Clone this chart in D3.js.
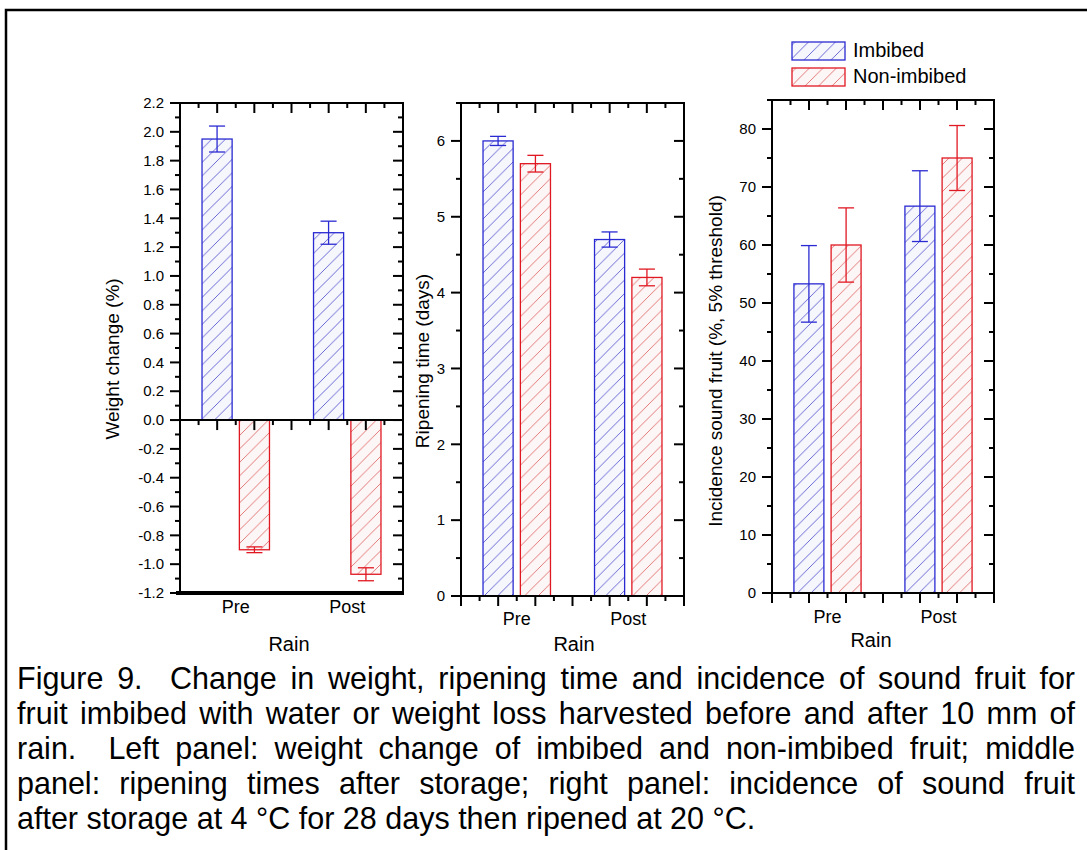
<!DOCTYPE html>
<html>
<head>
<meta charset="utf-8">
<script src="https://cdn.jsdelivr.net/npm/d3@7"></script>
<style>
  html, body { margin: 0; padding: 0; background: #fff; }
  svg { display: block; }
  text { font-family: "Liberation Sans", Arial, Helvetica, sans-serif; fill: #000; }
</style>
</head>
<body>
<svg id="fig" width="1087" height="850"></svg>
<script>
// ---- data ---------------------------------------------------------------
const rainGroups = ["Pre", "Post"];
const seriesNames = ["Imbibed", "Non-imbibed"];

// Weight change (%)
const weightImbibed = [1.95, 1.30];
const weightImbibedErr = [0.09, 0.08];
const weightNonImbibed = [-0.90, -1.07];
const weightNonImbibedErr = [0.02, 0.045];

// Ripening time (days)
const ripenImbibed = [6.0, 4.7];
const ripenImbibedErr = [0.06, 0.10];
const ripenNonImbibed = [5.7, 4.2];
const ripenNonImbibedErr = [0.11, 0.11];

// Incidence of sound fruit (%, 5% threshold)
const soundImbibed = [53.3, 66.7];
const soundImbibedErr = [6.6, 6.1];
const soundNonImbibed = [60.0, 75.0];
const soundNonImbibedErr = [6.4, 5.6];

// axis ticks
const weightTicks = [-1.2, -1.0, -0.8, -0.6, -0.4, -0.2, 0.0, 0.2, 0.4, 0.6, 0.8, 1.0, 1.2, 1.4, 1.6, 1.8, 2.0, 2.2];
const weightTickLabels = ["-1.2", "-1.0", "-0.8", "-0.6", "-0.4", "-0.2", "0.0", "0.2", "0.4", "0.6", "0.8", "1.0", "1.2", "1.4", "1.6", "1.8", "2.0", "2.2"];
const ripenTicks = [0, 1, 2, 3, 4, 5, 6];
const ripenTickLabels = ["0", "1", "2", "3", "4", "5", "6"];
const soundTicks = [0, 10, 20, 30, 40, 50, 60, 70, 80];
const soundTickLabels = ["0", "10", "20", "30", "40", "50", "60", "70", "80"];

const captionLines = [
  "Figure 9.  Change in weight, ripening time and incidence of sound fruit for",
  "fruit imbibed with water or weight loss harvested before and after 10 mm of",
  "rain.  Left panel: weight change of imbibed and non-imbibed fruit; middle",
  "panel: ripening times after storage; right panel: incidence of sound fruit",
  "after storage at 4 °C for 28 days then ripened at 20 °C."
];

// ---- styling ------------------------------------------------------------
const seriesStroke = ["#2a2ad2", "#e01822"];
const seriesHatch = ["#5a5ad0", "#e06a6a"];
const seriesBg = ["#f6f6fd", "#fdf6f6"];

const svg = d3.select("#fig");

// outer figure border (runs past the right and bottom edges)
svg.append("rect")
  .attr("x", 6).attr("y", 10).attr("width", 1200).attr("height", 1000)
  .attr("fill", "none").attr("stroke", "#000").attr("stroke-width", 2.5);

// diagonal hatch patterns
const defs = svg.append("defs");
const hatchStep = 13.5;
seriesNames.forEach((name, i) => {
  const p = defs.append("pattern")
    .attr("id", "hatch" + i)
    .attr("patternUnits", "userSpaceOnUse")
    .attr("width", hatchStep).attr("height", hatchStep);
  p.append("rect").attr("width", hatchStep).attr("height", hatchStep).attr("fill", seriesBg[i]);
  p.append("path")
    .attr("d", `M0,${hatchStep} L${hatchStep},0 M${-hatchStep / 2},${hatchStep / 2} L${hatchStep / 2},${-hatchStep / 2} M${hatchStep / 2},${hatchStep * 1.5} L${hatchStep * 1.5},${hatchStep / 2}`)
    .attr("stroke", seriesHatch[i]).attr("stroke-width", 0.9).attr("fill", "none");
});

// ---- panels -------------------------------------------------------------
const panels = [
  {
    box: [180, 403, 103, 593], domain: [-1.2, 2.2], minorStep: 0.1,
    ticks: weightTicks, labels: weightTickLabels,
    series: [[weightImbibed, weightImbibedErr], [weightNonImbibed, weightNonImbibedErr]],
    title: "Weight change (%)", titlePos: [119, 359],
    catBaseline: 613, rainPos: [289, 651], zeroAxis: true, tickFont: 15
  },
  {
    box: [461, 684, 103, 596], domain: [0, 6.5], minorStep: 0.5,
    ticks: ripenTicks, labels: ripenTickLabels,
    series: [[ripenImbibed, ripenImbibedErr], [ripenNonImbibed, ripenNonImbibedErr]],
    title: "Ripening time (days)", titlePos: [429, 361],
    catBaseline: 625, rainPos: [574, 651], zeroAxis: false, tickFont: 15
  },
  {
    box: [772, 994, 100, 593], domain: [0, 85], minorStep: 5,
    ticks: soundTicks, labels: soundTickLabels,
    series: [[soundImbibed, soundImbibedErr], [soundNonImbibed, soundNonImbibedErr]],
    title: "Incidence sound fruit (%, 5% threshold)", titlePos: [722, 361],
    catBaseline: 623, rainPos: [871, 647], zeroAxis: false, tickFont: 15
  }
];

const barWidth = 0.27;      // in category units
const barOffset = 0.1675;   // half distance between paired bar centres
const capHalf = 0.072;      // error-bar cap half width
const majorLen = 10, minorLen = 5;

panels.forEach(pn => {
  const [x0, x1, y0, y1] = pn.box;
  const x = d3.scaleLinear().domain([0.5, 2.5]).range([x0, x1]);
  const y = d3.scaleLinear().domain(pn.domain).range([y1, y0]);
  const g = svg.append("g");

  // bars with error bars
  pn.series.forEach(([vals, errs], si) => {
    const off = si === 0 ? -barOffset : barOffset;
    vals.forEach((v, ci) => {
      const cx = ci + 1 + off;
      g.append("rect")
        .attr("x", x(cx - barWidth / 2))
        .attr("y", Math.min(y(v), y(0)))
        .attr("width", x(cx + barWidth / 2) - x(cx - barWidth / 2))
        .attr("height", Math.abs(y(v) - y(0)))
        .attr("fill", `url(#hatch${si})`)
        .attr("stroke", seriesStroke[si]).attr("stroke-width", 1.3);
      const e = errs[ci];
      const eg = g.append("g").attr("stroke", seriesStroke[si]).attr("stroke-width", 1.3).attr("fill", "none");
      eg.append("line").attr("x1", x(cx)).attr("x2", x(cx)).attr("y1", y(v - e)).attr("y2", y(v + e));
      [v - e, v + e].forEach(ev => {
        eg.append("line").attr("x1", x(cx - capHalf)).attr("x2", x(cx + capHalf)).attr("y1", y(ev)).attr("y2", y(ev));
      });
    });
  });

  // minor y ticks
  const [d0, d1] = pn.domain;
  const minor = d3.range(Math.round(d0 / pn.minorStep), Math.round(d1 / pn.minorStep) + 1)
    .map(k => k * pn.minorStep)
    .filter(v => !pn.ticks.some(t => Math.abs(t - v) < 1e-9));

  const ax = g.append("g").attr("stroke", "#000").attr("stroke-width", 2);
  // left axis: outward ticks; right axis: inward ticks
  pn.ticks.forEach(t => {
    ax.append("line").attr("x1", x0 - majorLen).attr("x2", x0).attr("y1", y(t)).attr("y2", y(t));
    ax.append("line").attr("x1", x1 - majorLen).attr("x2", x1).attr("y1", y(t)).attr("y2", y(t));
  });
  minor.forEach(t => {
    ax.append("line").attr("x1", x0 - minorLen).attr("x2", x0).attr("y1", y(t)).attr("y2", y(t));
    ax.append("line").attr("x1", x1 - minorLen).attr("x2", x1).attr("y1", y(t)).attr("y2", y(t));
  });

  // x ticks at sixths of a category unit
  const xTicks = d3.range(0, 13).map(k => ({ v: 0.5 + k / 6, major: k % 2 === 0 }));
  const xAxisY = pn.zeroAxis ? y(0) : y1;
  xTicks.forEach(t => {
    const len = t.major ? majorLen : minorLen;
    if (t.v > 0.51 && t.v < 2.49)
      ax.append("line").attr("x1", x(t.v)).attr("x2", x(t.v)).attr("y1", y0).attr("y2", y0 + len);
    if (pn.zeroAxis && (t.v < 0.51 || t.v > 2.49)) return;
    ax.append("line").attr("x1", x(t.v)).attr("x2", x(t.v)).attr("y1", xAxisY).attr("y2", xAxisY + len);
  });

  // frame
  ax.append("rect").attr("x", x0).attr("y", y0).attr("width", x1 - x0).attr("height", y1 - y0)
    .attr("fill", "none");
  if (pn.zeroAxis) {
    ax.append("line").attr("x1", x0).attr("x2", x1).attr("y1", y(0)).attr("y2", y(0));
    ax.append("line").attr("x1", x0 - 4).attr("x2", x1 + 1).attr("y1", y1).attr("y2", y1).attr("stroke-width", 4);
  }

  // tick labels
  g.selectAll(null).data(pn.ticks).join("text")
    .attr("x", x0 - 16).attr("y", d => y(d)).attr("dy", "0.35em")
    .attr("text-anchor", "end").attr("font-size", pn.tickFont)
    .text((d, i) => pn.labels[i]);

  // category labels
  g.selectAll(null).data(rainGroups).join("text")
    .attr("x", (d, i) => x(i + 1)).attr("y", pn.catBaseline)
    .attr("text-anchor", "middle").attr("font-size", 18)
    .text(d => d);

  g.append("text").attr("x", pn.rainPos[0]).attr("y", pn.rainPos[1])
    .attr("text-anchor", "middle").attr("font-size", 20).text("Rain");

  g.append("text")
    .attr("transform", `translate(${pn.titlePos[0]},${pn.titlePos[1]}) rotate(-90)`)
    .attr("text-anchor", "middle").attr("font-size", 19).text(pn.title);
});

// ---- legend -------------------------------------------------------------
const legend = svg.append("g");
seriesNames.forEach((name, i) => {
  const ly = 42 + i * 26;
  legend.append("rect").attr("x", 792).attr("y", ly).attr("width", 53).attr("height", 18)
    .attr("fill", `url(#hatch${i})`).attr("stroke", seriesStroke[i]).attr("stroke-width", 1.3);
  legend.append("text").attr("x", 853).attr("y", ly + 15).attr("font-size", 20).text(name);
});

// ---- caption (justified, last line ragged) ------------------------------
const capX0 = 17, capX1 = 1075, capBase = 689, capLead = 35, capFont = 30.5;
const measure = s => {
  const t = svg.append("text").attr("font-size", capFont).attr("xml:space", "preserve").text(s);
  const w = t.node().getComputedTextLength();
  t.remove();
  return w;
};
const spaceW = measure("a a") - measure("aa");
captionLines.forEach((line, li) => {
  const words = line.split(" ");
  const widths = words.map(w => (w.length ? measure(w) : 0));
  const last = li === captionLines.length - 1;
  const gap = last ? spaceW : (capX1 - capX0 - d3.sum(widths)) / (words.length - 1);
  let cx = capX0;
  words.forEach((w, wi) => {
    if (w.length) {
      svg.append("text").attr("x", cx).attr("y", capBase + li * capLead)
        .attr("font-size", capFont).text(w);
    }
    cx += widths[wi] + gap;
  });
});
</script>
</body>
</html>
